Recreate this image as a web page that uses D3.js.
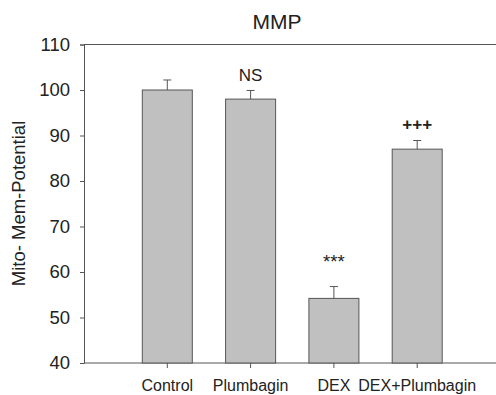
<!DOCTYPE html>
<html>
<head>
<meta charset="utf-8">
<script src="https://d3js.org/d3.v7.min.js"></script>
<style>
  body { margin: 0; background: #fff; }
  text { font-family: "Liberation Sans", Arial, sans-serif; fill: #222; }
</style>
</head>
<body>
<svg></svg>
<script>
    // data
    const groups = ["Control", "Plumbagin", "DEX", "DEX+Plumbagin"];
    const means = [100, 98, 54.2, 87];
    const errors = [2.2, 1.9, 2.6, 1.9];
    const marks = ["", "NS", "***", "+++"];
    const yTicks = [40, 50, 60, 70, 80, 90, 100, 110];

    const W = 496, H = 395;
    const plotLeft = 84, plotTop = 44.5, plotBottom = 363;

    // per-mark text style (size, weight, gap above the error cap)
    const markStyle = {
        "NS": {size: 17, weight: "normal", gap: 9},
        "***": {size: 18.5, weight: "normal", gap: 19},
        "+++": {size: 17, weight: "bold", gap: 11},
        "": {size: 17, weight: "normal", gap: 9}
    };

    const svg = d3.select("svg")
        .attr("width", W)
        .attr("height", H);

    // categories sit at 1..4, axis frame runs past the right edge of the picture
    const x = d3.scaleLinear()
        .domain([0, 5])
        .range([plotLeft, plotLeft + 5 * 83.3]);
    const barW = 50;

    const y = d3.scaleLinear()
        .domain([40, 110])
        .range([plotBottom, plotTop]);

    // top frame line
    svg.append("line")
        .attr("x1", plotLeft).attr("x2", W)
        .attr("y1", y(110)).attr("y2", y(110))
        .attr("stroke", "#555");

    // bottom axis line + ticks
    svg.append("line")
        .attr("x1", plotLeft).attr("x2", W)
        .attr("y1", plotBottom).attr("y2", plotBottom)
        .attr("stroke", "#555");

    const xt = svg.append("g").selectAll("g")
        .data(groups)
        .join("g")
        .attr("transform", (d, i) => `translate(${x(i + 1)},${plotBottom})`);
    xt.append("line")
        .attr("y2", 5)
        .attr("stroke", "#555");
    xt.append("text")
        .attr("y", 28)
        .attr("text-anchor", "middle")
        .style("font-size", "16px")
        .text(d => d);

    // left axis
    const yAxis = svg.append("g")
        .attr("transform", `translate(${plotLeft},0)`)
        .call(d3.axisLeft(y).tickValues(yTicks).tickSize(4).tickPadding(10));
    yAxis.select(".domain").attr("stroke", "#555");
    yAxis.selectAll(".tick line").attr("stroke", "#555");
    yAxis.selectAll(".tick text")
        .style("font-size", "18.5px")
        .attr("fill", "#222")
        .style("font-family", "Liberation Sans, Arial, sans-serif");

    // bars
    svg.append("g").selectAll("rect")
        .data(means)
        .join("rect")
        .attr("x", (d, i) => x(i + 1) - barW / 2)
        .attr("y", d => y(d))
        .attr("width", barW)
        .attr("height", d => plotBottom - y(d))
        .attr("fill", "#c0c0c0")
        .attr("stroke", "#555")
        .attr("stroke-width", 1);

    // upper error bars
    const eb = svg.append("g").selectAll("g")
        .data(means)
        .join("g");
    eb.append("line")
        .attr("x1", (d, i) => x(i + 1)).attr("x2", (d, i) => x(i + 1))
        .attr("y1", d => y(d))
        .attr("y2", (d, i) => y(d + errors[i]))
        .attr("stroke", "#555");
    eb.append("line")
        .attr("x1", (d, i) => x(i + 1) - 4).attr("x2", (d, i) => x(i + 1) + 4)
        .attr("y1", (d, i) => y(d + errors[i]))
        .attr("y2", (d, i) => y(d + errors[i]))
        .attr("stroke", "#555");

    // significance marks
    svg.append("g").selectAll("text")
        .data(marks)
        .join("text")
        .attr("x", (d, i) => x(i + 1))
        .attr("y", (d, i) => y(means[i] + errors[i]) - markStyle[d].gap)
        .attr("text-anchor", "middle")
        .style("font-size", d => markStyle[d].size + "px")
        .style("font-weight", d => markStyle[d].weight)
        .text(d => d);

    // title
    svg.append("text")
        .attr("x", 277)
        .attr("y", 28.5)
        .attr("text-anchor", "middle")
        .style("font-size", "21px")
        .text("MMP");

    // y label
    svg.append("text")
        .attr("transform", "rotate(-90)")
        .attr("x", -203.5)
        .attr("y", 25)
        .attr("text-anchor", "middle")
        .style("font-size", "18.5px")
        .attr("fill", "#333")
        .text("Mito- Mem-Potential");
</script>
</body>
</html>
